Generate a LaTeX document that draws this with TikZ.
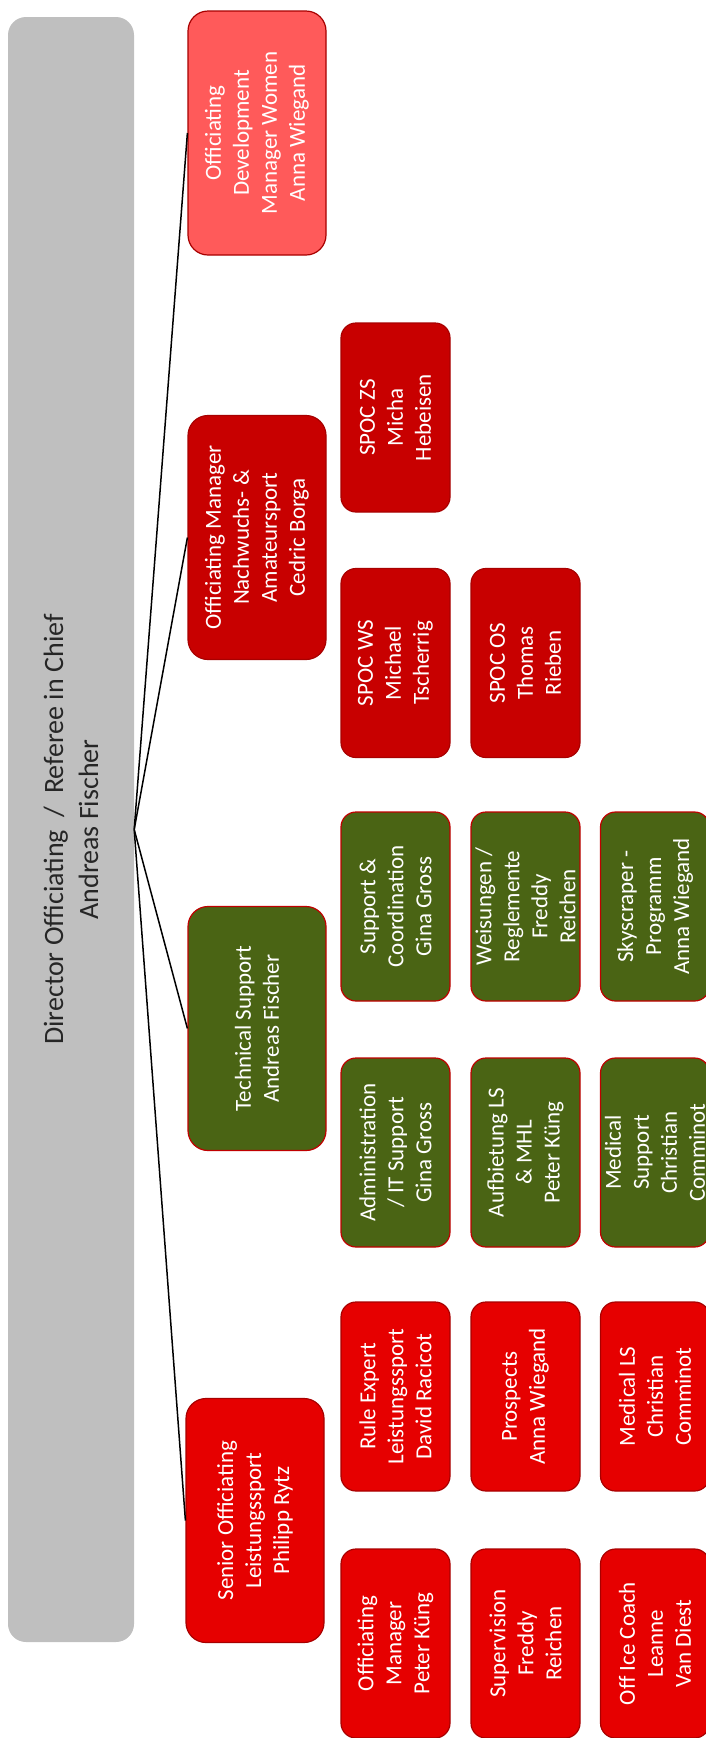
\documentclass[tikz,border=0pt]{standalone}
\usepackage{fontspec}
\setmainfont{Carlito}
\definecolor{grayfill}{HTML}{BFBFBF}
\definecolor{devfill}{HTML}{FF5A5A}
\definecolor{nachfill}{HTML}{C80000}
\definecolor{senfill}{HTML}{E60000}
\definecolor{techfill}{HTML}{4A6414}
\definecolor{redborder}{HTML}{A80000}
\definecolor{greenborder}{HTML}{C00000}
\definecolor{graytext}{HTML}{262626}
\tikzset{
  boxbase/.style={rotate=90, inner sep=0pt, align=center, text=white,
    font=\fontsize{23}{28}\selectfont, line width=1.2pt},
  lvlone/.style={boxbase, minimum width=244pt, minimum height=138pt, rounded corners=20pt},
  lvltwo/.style={boxbase, minimum width=189pt, minimum height=109pt, rounded corners=15pt},
  devbox/.style={fill=devfill, draw=redborder},
  nachbox/.style={fill=nachfill, draw=redborder},
  senbox/.style={fill=senfill, draw=redborder},
  techbox/.style={fill=techfill, draw=greenborder},
  link/.style={draw=black, line width=1.5pt}
}
\begin{document}
\begin{tikzpicture}[x=1pt,y=1pt]
\useasboundingbox (0,0) rectangle (706,-1738);
% root
\node[rotate=90, inner sep=0pt, minimum width=1625pt, minimum height=126pt,
  rounded corners=18pt, fill=grayfill, text=graytext, align=center,
  font=\fontsize{28}{35}\selectfont] (dir) at (71,-829.5)
  {Director Officiating~~/~~Referee in Chief\\Andreas Fischer};
% level 1
\node[lvlone, devbox] (dev) at (257,-133) {Officiating\\Development\\Manager Women\\Anna Wiegand};
\node[lvlone, nachbox] (nach) at (257,-537.5) {Officiating Manager\\Nachwuchs- \&\\Amateursport\\Cedric Borga};
\node[lvlone, techbox] (tech) at (257,-1028.5) {Technical Support\\Andreas Fischer};
\node[lvlone, senbox] (sen) at (255,-1520.5) {Senior Officiating\\Leistungssport\\Philipp Rytz};
% Nachwuchs children
\node[lvltwo, nachbox] (spoczs) at (395.5,-417.5) {SPOC ZS\\Micha\\Hebeisen};
\node[lvltwo, nachbox] (spocws) at (395.5,-663) {SPOC WS\\Michael\\Tscherrig};
\node[lvltwo, nachbox] (spocos) at (525.5,-663) {SPOC OS\\Thomas\\Rieben};
% Technical children
\node[lvltwo, techbox] (supcoord) at (395.5,-906.5) {Support \&\\Coordination\\Gina Gross};
\node[lvltwo, techbox] (weis) at (525.5,-906.5) {Weisungen /\\Reglemente\\Freddy\\Reichen};
\node[lvltwo, techbox] (sky) at (655,-906.5) {Skyscraper -\\Programm\\Anna Wiegand};
\node[lvltwo, techbox] (admin) at (395.5,-1152.5) {Administration\\/ IT Support\\Gina Gross};
\node[lvltwo, techbox] (aufb) at (525.5,-1152.5) {Aufbietung LS\\\& MHL\\Peter Küng};
\node[lvltwo, techbox] (medsup) at (655,-1152.5) {Medical\\Support\\Christian\\Comminot};
% Senior children
\node[lvltwo, senbox] (rule) at (395.5,-1396.5) {Rule Expert\\Leistungssport\\David Racicot};
\node[lvltwo, senbox] (prosp) at (525.5,-1396.5) {Prospects\\Anna Wiegand};
\node[lvltwo, senbox] (medls) at (655,-1396.5) {Medical LS\\Christian\\Comminot};
\node[lvltwo, senbox] (offman) at (395.5,-1643.5) {Officiating\\Manager\\Peter Küng};
\node[lvltwo, senbox] (superv) at (525.5,-1643.5) {Supervision\\Freddy\\Reichen};
\node[lvltwo, senbox] (office) at (655,-1643.5) {Off Ice Coach\\Leanne\\Van Diest};
% connectors
\draw[link] (dir.south) -- (dev.north);
\draw[link] (dir.south) -- (nach.north);
\draw[link] (dir.south) -- (tech.north);
\draw[link] (dir.south) -- (sen.north);
\end{tikzpicture}
\end{document}
